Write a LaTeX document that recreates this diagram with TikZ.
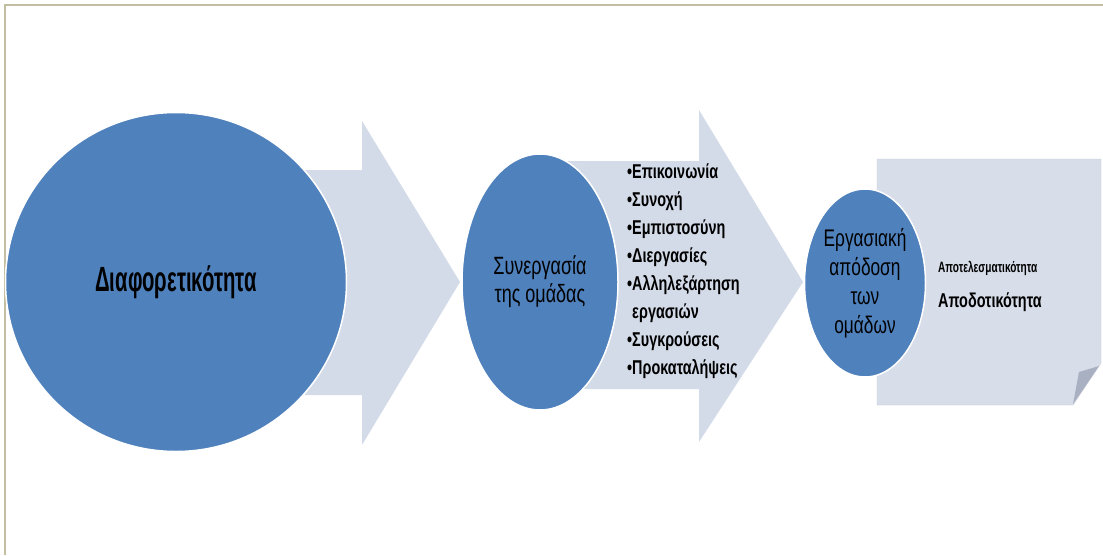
\documentclass[tikz,border=0pt]{standalone}
\usepackage{fontspec}
\setmainfont{Liberation Sans}
\newfontfamily\narrowfont{Liberation Sans}[FakeStretch=0.72]
\newfontfamily\condfont{Liberation Sans}[FakeStretch=0.58]
\usetikzlibrary{positioning}
\usetikzlibrary{shapes.geometric}
\definecolor{circblue}{RGB}{79,129,189}
\definecolor{arrowgray}{RGB}{212,219,232}
\definecolor{notegray}{RGB}{215,221,233}
\definecolor{foldgray}{RGB}{168,176,194}
\definecolor{frameline}{RGB}{196,190,160}
\tikzset{
	stagecircle/.style={ellipse, fill=circblue, draw=white, line width=1.5pt, inner sep=0pt, align=center},
	listtext/.style={anchor=north west, inner sep=0pt, align=left, font=\narrowfont\bfseries\fontsize{20}{28}\selectfont},
	notetext/.style={anchor=base west, inner sep=0pt, font=\narrowfont\bfseries\fontsize{20}{23}\selectfont},
}

\begin{document}
\begin{tikzpicture}[x=1pt, y=-1pt]
	\useasboundingbox[fill=white] (0,0) rectangle (1103,555);
	\draw[frameline, line width=1.5pt] (1103,5) -- (5,5) -- (5,555);
	
	% block arrows behind the circles
	\fill[arrowgray] (250,170) -- (362,170) -- (362,121) -- (460,282) -- (362,445) -- (362,395) -- (250,395) -- cycle;
	\fill[arrowgray] (540,161) -- (699,161) -- (699,110) -- (803,282) -- (699,442) -- (699,389) -- (540,389) -- cycle;
	
	% note with folded corner
	\fill[notegray, draw=notegray!92!black, line width=0.4pt] (877,159) -- (1101,159) -- (1101,363) -- (1073,405) -- (877,405) -- cycle;
	\fill[foldgray] (1079,372) -- (1099,366) -- (1073,404) -- cycle;
	
	\node[stagecircle, minimum width=341pt, minimum height=339pt, font=\condfont\bfseries\fontsize{35}{40}\selectfont] (diversity) at (176,282) {Διαφορετικότητα};
	\node[stagecircle, minimum width=156pt, minimum height=256pt, font=\narrowfont\fontsize{25}{28}\selectfont] (teamwork) at (540,282) {Συνεργασία\\της ομάδας};
	\node[stagecircle, minimum width=121pt, minimum height=188pt, font=\narrowfont\fontsize{24}{29}\selectfont] (performance) at (865,283) {Εργασιακή\\απόδοση\\των\\ομάδων};
	
	\node[listtext] (factors) at (627,164) {•Επικοινωνία\\•Συνοχή\\•Εμπιστοσύνη\\•Διεργασίες\\•Αλληλεξάρτηση\\\hphantom{•}εργασιών\\•Συγκρούσεις\\•Προκαταλήψεις};
	
	\node[notetext] (effectiveness) at (938,272) {\scalebox{0.7}[0.75]{Αποτελεσματικότητα}};
	\node[notetext] (efficiency) at (938,307) {Αποδοτικότητα};
\end{tikzpicture}
\end{document}
